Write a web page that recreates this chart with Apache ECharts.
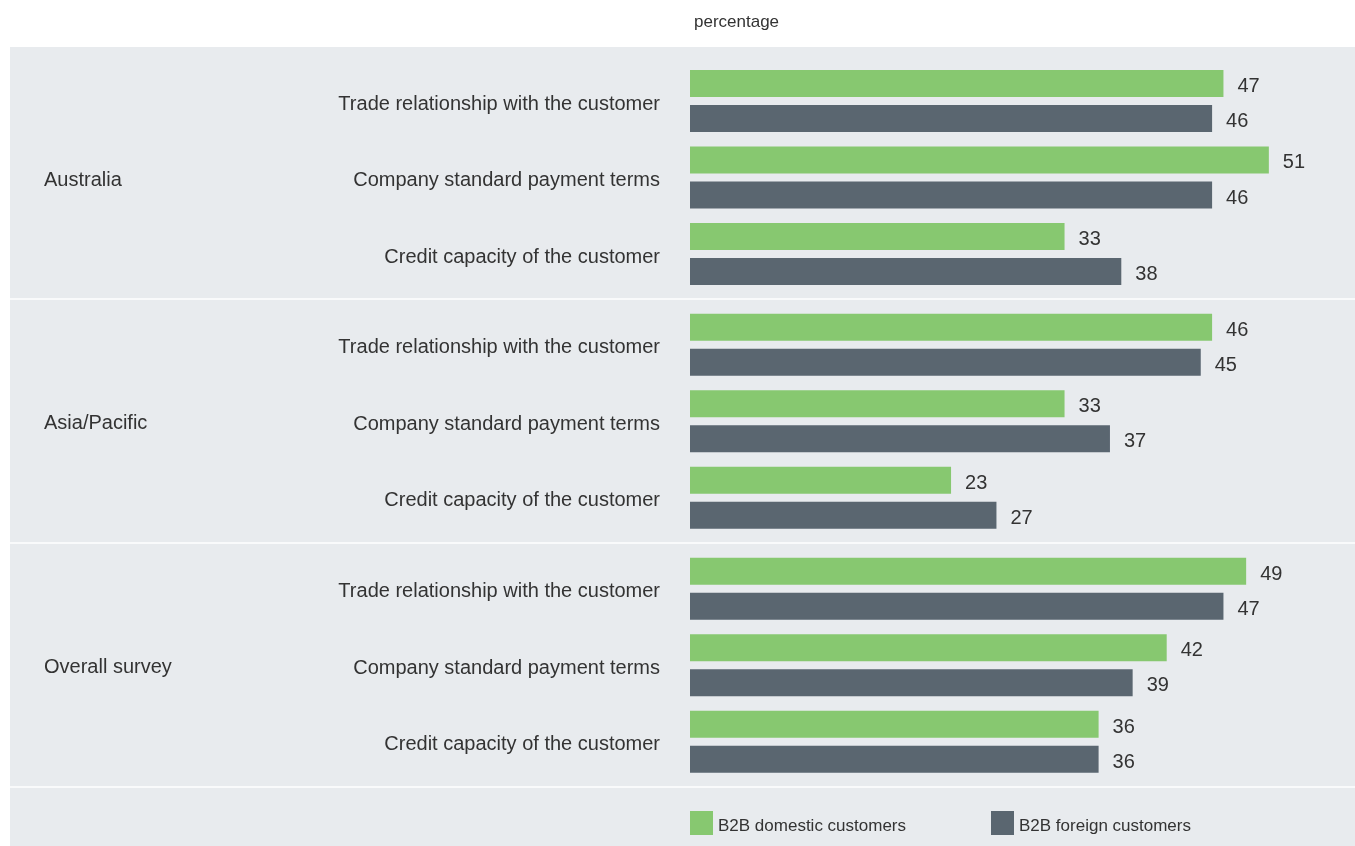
<!DOCTYPE html>
<html>
<head>
<meta charset="utf-8">
<script src="https://cdn.jsdelivr.net/npm/echarts@6/dist/echarts.min.js"></script>
<style>
  html, body { margin: 0; padding: 0; background: #ffffff; }
  #chart { width: 1355px; height: 846px; }
</style>
</head>
<body>
<div id="chart"></div>
<script>
// Survey answers by region, percentage of respondents
const regions = ['Australia', 'Asia/Pacific', 'Overall survey'];
const factors = [
  'Trade relationship with the customer',
  'Company standard payment terms',
  'Credit capacity of the customer'
];
const seriesNames = ['B2B domestic customers', 'B2B foreign customers'];

const domesticAustralia = [47, 51, 33];
const foreignAustralia  = [46, 46, 38];
const domesticAsia      = [46, 33, 23];
const foreignAsia       = [45, 37, 27];
const domesticOverall   = [49, 42, 36];
const foreignOverall    = [47, 39, 36];

const domestic = [domesticAustralia, domesticAsia, domesticOverall];
const foreign  = [foreignAustralia, foreignAsia, foreignOverall];

const FONT = "'Liberation Sans', Arial, sans-serif";
const TEXT = '#333333';
const GREEN = '#87c870';
const SLATE = '#5a6670';
const PANEL = '#e8ebee';

// plot geometry for the three stacked panels
const gridTops = [62.75, 306.5, 550.5];
const gridHeight = 229.5;
const plotLeft = 690;
const xMax = 55;
const pxPerUnit = 11.35;
const plotWidth = xMax * pxPerUnit;

const grids = [], xAxes = [], yAxes = [], series = [];
regions.forEach((r, i) => {
  grids.push({ left: plotLeft, top: gridTops[i], width: plotWidth, height: gridHeight });
  xAxes.push({
    type: 'value', gridIndex: i, min: 0, max: xMax, show: false
  });
  yAxes.push({
    type: 'category', gridIndex: i, data: factors, inverse: true,
    axisLine: { show: false }, axisTick: { show: false }, splitLine: { show: false },
    axisLabel: {
      margin: 30,
      formatter: v => '{t|' + v + '}',
      rich: { t: { color: TEXT, fontSize: 20, fontFamily: FONT, padding: [6, 0, 0, 0] } }
    }
  });
  const label = {
    show: true, position: 'right', distance: 14, offset: [0, 3],
    color: TEXT, fontSize: 20, fontFamily: FONT
  };
  series.push({
    name: seriesNames[0], type: 'bar', xAxisIndex: i, yAxisIndex: i,
    data: domestic[i], barWidth: 27, barGap: '30%',
    itemStyle: { color: GREEN }, label: label, silent: true
  });
  series.push({
    name: seriesNames[1], type: 'bar', xAxisIndex: i, yAxisIndex: i,
    data: foreign[i], barWidth: 27, barGap: '30%',
    itemStyle: { color: SLATE }, label: label, silent: true
  });
});

// section backgrounds, dividers and region names
const separators = [299, 543, 787];
const graphic = [
  { type: 'rect', z: -10, shape: { x: 10, y: 47, width: 1345, height: 799 }, style: { fill: PANEL } }
];
separators.forEach(y => {
  graphic.push({ type: 'rect', z: -9, shape: { x: 10, y: y - 0.75, width: 1345, height: 1.5 }, style: { fill: '#ffffff' } });
});
const regionLabelY = [180, 423, 667];
regions.forEach((r, i) => {
  graphic.push({
    type: 'text', x: 44, y: regionLabelY[i],
    style: { text: r, fill: TEXT, font: '20px ' + FONT, textVerticalAlign: 'middle', verticalAlign: 'middle' }
  });
});
graphic.push({
  type: 'text', left: 694, top: 14,
  style: { text: 'percentage', fill: TEXT, font: '17px ' + FONT }
});

const chart = echarts.init(document.getElementById('chart'), null, { renderer: 'canvas' });
chart.setOption({
  animation: false,
  backgroundColor: '#ffffff',
  grid: grids,
  xAxis: xAxes,
  yAxis: yAxes,
  series: series,
  graphic: graphic,
  legend: {
    data: seriesNames,
    left: 690, top: 811,
    icon: 'rect', itemWidth: 23, itemHeight: 24, itemGap: 85,
    padding: 0, selectedMode: false,
    formatter: n => '{t|' + n + '}',
    textStyle: {
      color: TEXT, fontSize: 17, fontFamily: FONT,
      rich: { t: { color: TEXT, fontSize: 17, fontFamily: FONT, padding: [7, 0, 0, 0] } }
    }
  }
});
</script>
</body>
</html>
